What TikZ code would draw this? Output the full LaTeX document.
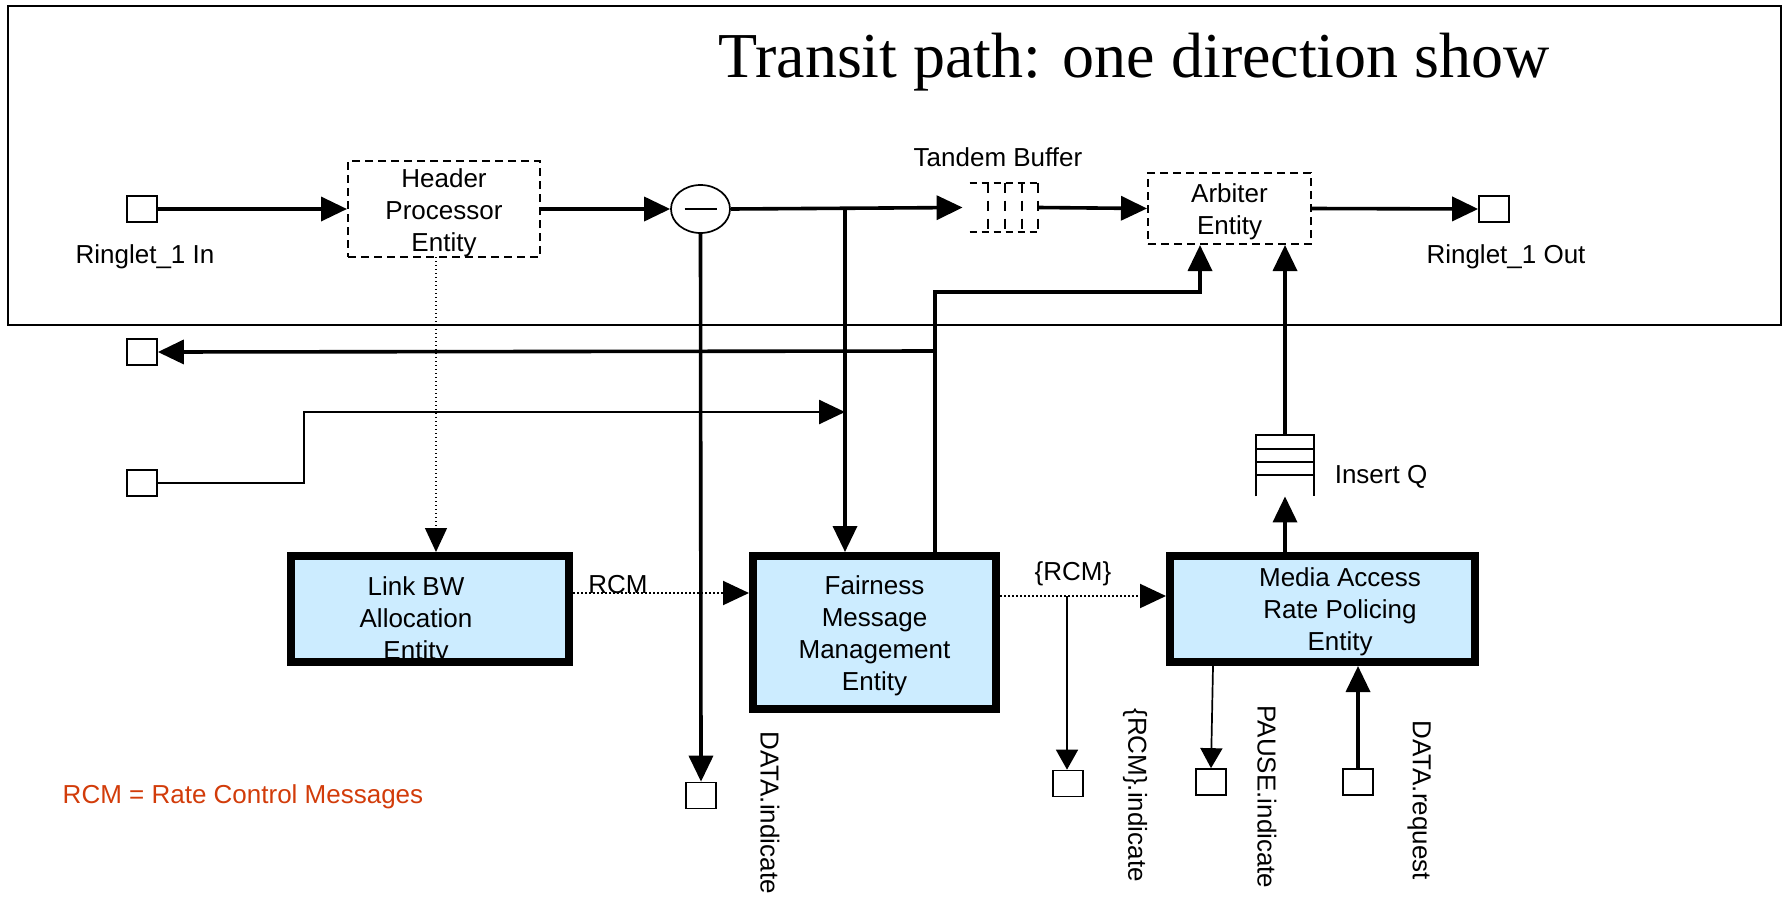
\documentclass[tikz,border=0pt]{standalone}
\usepackage{fontspec}
\setmainfont{Liberation Sans}
\newfontfamily\titlefont{Liberation Serif}
\usetikzlibrary{arrows.meta,shapes.geometric,calc}
\definecolor{boxblue}{RGB}{204,236,255}
\definecolor{rcmred}{RGB}{210,60,10}
\begin{document}
\begin{tikzpicture}[x=0.5pt,y=-0.5pt,
  every node/.style={font=\fontsize{13}{16}\selectfont, inner sep=0pt},
  port/.style={draw, line width=0.85pt, minimum width=15pt, minimum height=13pt, inner sep=0pt},
  dbox/.style={draw, line width=1pt, dash pattern=on 4pt off 2.5pt},
  ebox/.style={draw, line width=4pt, fill=boxblue},
  intext/.style={align=center, font=\fontsize{13}{16}\selectfont},
  thk/.style={line width=1.8pt, -{Triangle[length=13pt,width=12pt]}},
  thn/.style={line width=0.85pt, -{Triangle[length=10pt,width=11pt]}},
  dotsthin/.style={line width=0.7pt, dash pattern=on 0.7pt off 1.3pt, -{Triangle[length=12pt,width=11pt]}},
  dotsthick/.style={line width=1pt, dash pattern=on 1pt off 1pt, -{Triangle[length=13pt,width=12pt]}},
  vlbl/.style={rotate=-90, anchor=west},
  qline/.style={line width=1pt},
]
\useasboundingbox (0,0) rectangle (1787,900);
% frame
\draw[line width=0.85pt] (8,6) rectangle (1781,325);
\node[anchor=base west, font=\titlefont\fontsize{32}{36}\selectfont] (title) at (718,77) {Transit path: one direction show};

% top row
\node[port] (in1) at (142,209) {};
\node (in1l) at (145,257) {Ringlet\_1 In};
\node[dbox, minimum width=96pt, minimum height=48pt,
      label={[intext, yshift=-2pt]center:Header\\Processor\\Entity}] (hdr) at (444,209) {};
\node[ellipse, draw, line width=0.85pt, minimum width=29.5pt, minimum height=24pt] (sub) at (700.5,209) {};
\draw[line width=1.2pt] ($(sub.center)+(-16,0)$) -- ($(sub.center)+(16,0)$);
\node[minimum width=34pt, minimum height=24.5pt] (tb) at (1004,207.5) {};
\draw[qline, dash pattern=on 3.5pt off 2.5pt] (tb.north west) -- (tb.north east);
\draw[qline, dash pattern=on 3.5pt off 2.5pt] (tb.south west) -- (tb.south east);
\foreach \dx in {18,35,52,68}
  \draw[qline, dash pattern=on 5pt off 4pt] ($(tb.north west)+(\dx,0)$) -- ($(tb.south west)+(\dx,0)$);
\node (tbl) at (998,157) {Tandem Buffer};
\node[dbox, minimum width=81.5pt, minimum height=35.5pt,
      label={[intext, yshift=-1.5pt]center:Arbiter\\Entity}] (arb) at (1229.5,208.5) {};
\node[port] (out1) at (1494,209) {};
\node (out1l) at (1506,257) {Ringlet\_1 Out};

% left ports
\node[port] (l1) at (142,352) {};
\node[port] (l2) at (142,483) {};

% entity boxes
\node[ebox, minimum width=139pt, minimum height=53pt,
      label={[intext, xshift=-7pt, yshift=-6pt]center:Link BW\\Allocation\\Entity}] (lbw) at (430,609) {};
\node[ebox, minimum width=121.5pt, minimum height=76.5pt,
      label={[intext, yshift=-1.5pt]center:Fairness\\Message\\Management\\Entity}] (fmm) at (874.5,632.5) {};
\node[ebox, minimum width=152.5pt, minimum height=53pt,
      label={[intext, xshift=8.75pt, yshift=-1.5pt]center:Media Access\\Rate Policing\\Entity}] (med) at (1322.5,609) {};

% insert queue
\node[minimum width=29pt, minimum height=30.5pt] (iq) at (1285,465.5) {};
\draw[qline] (iq.south west) -- (iq.north west) -- (iq.north east) -- (iq.south east);
\foreach \dy in {14,27,40}
  \draw[qline] ($(iq.north west)+(0,\dy)$) -- ($(iq.north east)+(0,\dy)$);
\node (iql) at (1381,477) {Insert Q};

% bottom ports
\node[port] (di) at (701,795.5) {};
\node[vlbl] (dil) at (770,731) {DATA.indicate};
\node[port] (ri) at (1068,783.5) {};
\node[vlbl] (ril) at (1135,708) {\{RCM\}.indicate};
\node[port] (pi) at (1211,782) {};
\node[vlbl] (pil) at (1267,705) {PAUSE.indicate};
\node[port] (dr) at (1358,782) {};
\node[vlbl] (drl) at (1419,720) {DATA.request};

\node[text=rcmred] (leg) at (243,797) {RCM = Rate Control Messages};

% main transit path
\draw[thk] (in1.east) -- (hdr.west);
\draw[thk] (hdr.east) -- (sub.west);
\draw[thk] (sub.east) -- ($(tb.west)+(-7,0)$);
\draw[thk] (tb.east) -- (arb.west);
\draw[thk] (arb.east) -- (out1.west);

% branches
\coordinate (j1) at (845,209);
\draw[thk] (j1) -- (j1 |- fmm.north);
\draw[thk] (sub.south) -- (di.north);
\coordinate (d1) at (436,257);
\draw[dotsthin] (d1) -- (d1 |- lbw.north);

\coordinate (c2) at (304,483);
\coordinate (c3) at (304,412);
\coordinate (j2) at (845,412);
\draw[line width=1.3pt, -{Triangle[length=13pt,width=12pt]}] (l2.east) -- (c2) -- (c3) -- (j2);

\coordinate (f1) at (935,552);
\coordinate (f2) at (935,292);
\coordinate (a1) at (1200,292);
\draw[thk] (f1) -- (f2) -- (a1) -- (a1 |- arb.south);
\coordinate (f3) at (935,351);
\draw[thk] (f3) -- (l1.east);

% rate control messages
\draw[dotsthick] ([yshift=8pt]lbw.east) -- ([yshift=8pt]lbw.east -| fmm.west);
\node (rcm) at (618,585) {RCM};
\coordinate (r2) at ([yshift=6.5pt]med.west);
\draw[dotsthick] (r2 -| fmm.east) -- (r2);
\node (rcm2) at (1073,574) {\{RCM\}};
\coordinate (b2) at (1067,596);
\draw[thn] (b2) -- (b2 |- ri.north);

% media access connections
\draw[thk] (iq.south |- med.north) -- (iq.south);
\draw[thk] (iq.north) -- (iq.north |- arb.south);
\coordinate (p1) at (1213,666);
\draw[thn] (p1) -- (pi.north);
\draw[thk] (dr.north) -- (dr.north |- med.south);
\end{tikzpicture}
\end{document}
